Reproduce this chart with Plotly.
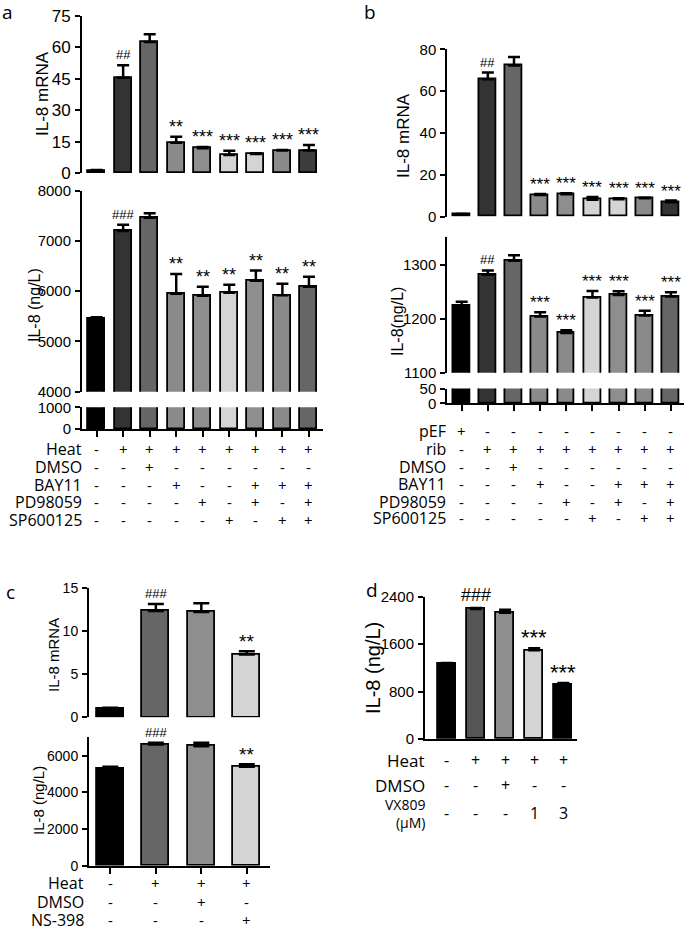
import plotly.graph_objects as go

W, H = 685, 931

# ---------------- data ----------------
a_mrna = [1.0, 45.5, 62.6, 14.5, 11.8, 8.6, 9.1, 10.7, 10.7]
a_mrna_err = [0.4, 6.0, 3.7, 2.8, 0.6, 2.0, 0.3, 0.3, 2.7]
a_mrna_sig = ["", "##", "", "**", "***", "***", "***", "***", "***"]
a_il8 = [5460, 7200, 7460, 5950, 5910, 5970, 6210, 5920, 6090]
a_il8_err = [20, 120, 90, 390, 180, 160, 200, 230, 200]
a_il8_sig = ["", "###", "", "**", "**", "**", "**", "**", "**"]
a_rows = ["Heat", "DMSO", "BAY11", "PD98059", "SP600125"]
a_table = [
    ["-", "+", "+", "+", "+", "+", "+", "+", "+"],
    ["-", "-", "+", "-", "-", "-", "-", "-", "-"],
    ["-", "-", "-", "+", "-", "-", "+", "+", "+"],
    ["-", "-", "-", "-", "+", "-", "+", "-", "+"],
    ["-", "-", "-", "-", "-", "+", "-", "+", "+"],
]
a_col_top = ["#000000", "#333333", "#666666", "#8a8a8a", "#8e8e8e", "#d4d4d4", "#d4d4d4", "#8a8a8a", "#3c3c3c"]
a_col_bot = ["#000000", "#333333", "#666666", "#8a8a8a", "#8e8e8e", "#d4d4d4", "#8e8e8e", "#8a8a8a", "#666666"]

b_mrna = [1.0, 65.7, 72.2, 10.4, 10.7, 8.1, 8.3, 8.8, 6.9]
b_mrna_err = [0.3, 3.2, 4.1, 0.4, 0.5, 1.3, 0.5, 0.3, 0.8]
b_mrna_sig = ["", "##", "", "***", "***", "***", "***", "***", "***"]
b_il8 = [1224.6, 1281.5, 1307.4, 1204, 1173.5, 1239.5, 1244, 1206, 1241]
b_il8_err = [7, 8, 10, 8, 5, 12, 7, 9, 8]
b_il8_sig = ["", "##", "", "***", "***", "***", "***", "***", "***"]
b_rows = ["pEF", "rib", "DMSO", "BAY11", "PD98059", "SP600125"]
b_table = [
    ["+", "-", "-", "-", "-", "-", "-", "-", "-"],
    ["-", "+", "+", "+", "+", "+", "+", "+", "+"],
    ["-", "-", "+", "-", "-", "-", "-", "-", "-"],
    ["-", "-", "-", "+", "-", "-", "+", "+", "+"],
    ["-", "-", "-", "-", "+", "-", "+", "-", "+"],
    ["-", "-", "-", "-", "-", "+", "-", "+", "+"],
]
b_col_top = ["#000000", "#333333", "#666666", "#8a8a8a", "#8e8e8e", "#d4d4d4", "#d4d4d4", "#8a8a8a", "#333333"]
b_col_bot = ["#000000", "#333333", "#666666", "#8a8a8a", "#8a8a8a", "#d4d4d4", "#8e8e8e", "#8a8a8a", "#666666"]

c_mrna = [1.0, 12.3, 12.2, 7.26]
c_mrna_err = [0.1, 0.8, 1.0, 0.38]
c_mrna_sig = ["", "###", "", "**"]
c_il8 = [5280, 6610, 6520, 5400]
c_il8_err = [110, 90, 180, 130]
c_il8_sig = ["", "###", "", "**"]
c_rows = ["Heat", "DMSO", "NS-398"]
c_table = [
    ["-", "+", "+", "+"],
    ["-", "-", "+", "-"],
    ["-", "-", "-", "+"],
]
c_col = ["#000000", "#666666", "#8e8e8e", "#d4d4d4"]

d_il8 = [1265, 2192, 2130, 1495, 916]
d_il8_err = [15, 17, 50, 34, 28]
d_il8_sig = ["", "###", "", "***", "***"]
d_rows = ["Heat", "DMSO", "VX809<br>(μM)"]
d_table = [
    ["-", "+", "+", "+", "+"],
    ["-", "-", "+", "-", "-"],
    ["-", "-", "-", "1", "3"],
]
d_col = ["#000000", "#555555", "#8e8e8e", "#d4d4d4", "#000000"]

# ---------------- helpers ----------------
TICKFONT = "Arial, Liberation Sans, sans-serif"
TABFONT = "Open Sans, sans-serif"

fig = go.Figure()
layout = {}
annotations = []


def xdom(p0, p1):
    return [p0 / W, p1 / W]


def ydom(ptop, pbot):
    return [1 - pbot / H, 1 - ptop / H]


def py(p):
    return 1 - p / H


def add_axes(k, xd, yd, xr, yr, tickvals, tsize, xline=False, xticks=None):
    sfx = "" if k == 1 else str(k)
    xa = dict(domain=xd, range=xr, anchor="y" + sfx, showgrid=False, zeroline=False,
              showticklabels=False, fixedrange=True, automargin=False)
    if xline:
        xa.update(showline=True, linecolor="black", linewidth=2)
        if xticks is not None:
            xa.update(ticks="outside", tickvals=xticks, ticklen=6, tickwidth=2, tickcolor="black")
        else:
            xa.update(ticks="")
    else:
        xa.update(visible=False)
    ya = dict(domain=yd, range=yr, anchor="x" + sfx, showgrid=False, zeroline=False,
              showline=True, linecolor="black", linewidth=2, ticks="outside", ticklen=5,
              tickwidth=2, tickcolor="black", tickvals=tickvals, automargin=False,
              fixedrange=True,
              tickfont=dict(family=TICKFONT, size=tsize, color="black"), ticklabelstandoff=1)
    layout["xaxis" + sfx] = xa
    layout["yaxis" + sfx] = ya
    return "x" + sfx, "y" + sfx


def add_bars(xa, ya, vals, colors, err=None, bw=0.64, lw=1.8, capw=6):
    n = len(vals)
    kw = {}
    if err is not None:
        kw["error_y"] = dict(type="data", array=err, arrayminus=[0] * n, symmetric=False,
                             color="black", thickness=2.5, width=capw)
    fig.add_trace(go.Bar(x=list(range(n)), y=vals, width=bw, xaxis=xa, yaxis=ya,
                         marker=dict(color=colors, line=dict(color="black", width=lw)),
                         showlegend=False, hoverinfo="skip", **kw))


def add_sig(xa, ya, vals, err, sig, size, shift=0, hsize=None):
    for i, s in enumerate(sig):
        if s:
            isz = (hsize or size) if s.startswith("#") else size
            annotations.append(dict(x=i, y=vals[i] + err[i], xref=xa, yref=ya, text=s,
                                    showarrow=False, yanchor="bottom",
                                    yshift=shift if s.startswith("*") else 1,
                                    font=dict(family=TICKFONT, size=isz, color="black")))


def add_table(xa, rows, table, ypix, xlabel, size, label_size=None):
    for r, (lab, yy) in enumerate(zip(rows, ypix)):
        annotations.append(dict(x=xlabel / W, y=py(yy), xref="paper", yref="paper", text=lab,
                                showarrow=False, xanchor="right", yanchor="middle",
                                font=dict(family=TABFONT, size=label_size or size, color="black")))
        for i, s in enumerate(table[r]):
            annotations.append(dict(x=i, y=py(yy), xref=xa, yref="paper", text=s,
                                    showarrow=False, xanchor="center", yanchor="middle",
                                    font=dict(family=TABFONT, size=size, color="black")))


def ytitle(text, xc, yc, size, family=TICKFONT):
    annotations.append(dict(x=xc / W, y=py(yc), xref="paper", yref="paper", text=text,
                            textangle=-90, showarrow=False, xanchor="center", yanchor="middle",
                            font=dict(family=family, size=size, color="black")))


def letter(t, xc, yc):
    annotations.append(dict(x=xc / W, y=py(yc), xref="paper", yref="paper", text=t,
                            showarrow=False, xanchor="center", yanchor="middle",
                            font=dict(family=TABFONT, size=19, color="black")))


# ---------------- panel a ----------------
axr = [-0.55, 8.53]
xa1, ya1 = add_axes(1, xdom(82, 323), ydom(16, 173), axr, [0, 75], [0, 15, 30, 45, 60, 75], 17)
add_bars(xa1, ya1, a_mrna, a_col_top, a_mrna_err)
add_sig(xa1, ya1, a_mrna, a_mrna_err, a_mrna_sig, 18, -2, 13)

xa2, ya2 = add_axes(2, xdom(82, 323), ydom(190.7, 391.7), axr, [4000, 8000],
                    [4000, 5000, 6000, 7000, 8000], 15)
add_bars(xa2, ya2, a_il8, a_col_bot, a_il8_err)
add_sig(xa2, ya2, a_il8, a_il8_err, a_il8_sig, 18, -2, 13)

xa3, ya3 = add_axes(3, xdom(82, 323), ydom(407.3, 429), axr, [0, 1000], [0, 1000], 15,
                    xline=True, xticks=list(range(9)))
add_bars(xa3, ya3, a_il8, a_col_bot)
add_table(xa3, a_rows, a_table, [449, 467, 484.5, 502, 519.5], 84, 15, 16)
ytitle("IL-8 mRNA", 42, 94, 17)
ytitle("IL-8 (ng/L)", 34, 305, 16)
letter("a", 7, 12)

# ---------------- panel b ----------------
bxr = [-0.55, 8.5]
xb1, yb1 = add_axes(4, xdom(447.3, 684), ydom(49.3, 216.7), bxr, [0, 80], [0, 20, 40, 60, 80], 15)
add_bars(xb1, yb1, b_mrna, b_col_top, b_mrna_err)
add_sig(xb1, yb1, b_mrna, b_mrna_err, b_mrna_sig, 17, -2, 13)

xb2, yb2 = add_axes(5, xdom(447.3, 684), ydom(236.7, 372.7), bxr, [1100, 1352],
                    [1100, 1200, 1300], 15)
add_bars(xb2, yb2, b_il8, b_col_bot, b_il8_err)
add_sig(xb2, yb2, b_il8, b_il8_err, b_il8_sig, 17, -2, 13)

xb3, yb3 = add_axes(6, xdom(447.3, 684), ydom(388.5, 403.3), bxr, [0, 50], [0, 50], 15,
                    xline=True, xticks=list(range(9)))
add_bars(xb3, yb3, b_il8, b_col_bot)
add_table(xb3, b_rows, b_table, [431, 449, 466.7, 484, 501.7, 518.3], 448, 15, 16)
ytitle("IL-8 mRNA", 403, 136, 17)
ytitle("IL-8(ng/L)", 397, 322, 16)
letter("b", 370, 12)

# ---------------- panel c ----------------
cxr = [-0.47, 3.51]
xc1, yc1 = add_axes(7, xdom(89, 270), ydom(587.7, 717.3), cxr, [0, 15], [0, 5, 10, 15], 14)
add_bars(xc1, yc1, c_mrna, c_col, c_mrna_err, bw=0.6, capw=8)
add_sig(xc1, yc1, c_mrna, c_mrna_err, c_mrna_sig, 19, -3, 13)

xc2, yc2 = add_axes(8, xdom(89, 270), ydom(736.7, 865.7), cxr, [0, 7035],
                    [0, 2000, 4000, 6000], 14, xline=True, xticks=list(range(4)))
add_bars(xc2, yc2, c_il8, c_col, c_il8_err, bw=0.6, capw=8)
add_sig(xc2, yc2, c_il8, c_il8_err, c_il8_sig, 19, -3, 13)
add_table(xc2, c_rows, c_table, [882.5, 902, 919.5], 86, 15, 16)
ytitle("IL-8 mRNA", 53, 655, 15)
ytitle("IL-8 (ng/L)", 38, 801, 15)
letter("c", 10, 592)

# ---------------- panel d ----------------
dxr = [-0.75, 4.47]
xd1, yd1 = add_axes(9, xdom(425, 577), ydom(596.7, 739), dxr, [0, 2400], [0, 800, 1600, 2400], 15,
                    xline=True, xticks=None)
add_bars(xd1, yd1, d_il8, d_col, d_il8_err, bw=0.63)
add_sig(xd1, yd1, d_il8, d_il8_err, d_il8_sig, 22, -4, 18)
add_table(xd1, d_rows[:2], d_table[:2], [760, 785], 427, 16, 17)
# VX809 row: smaller two-line label
annotations.append(dict(x=427 / W, y=py(813), xref="paper", yref="paper", text=d_rows[2],
                        showarrow=False, xanchor="right", yanchor="middle", align="right",
                        font=dict(family=TABFONT, size=14, color="black")))
for i, s in enumerate(d_table[2]):
    annotations.append(dict(x=i, y=py(813), xref=xd1, yref="paper", text=s,
                            showarrow=False, xanchor="center", yanchor="middle",
                            font=dict(family=TABFONT, size=16, color="black")))
ytitle("IL-8 (ng/L)", 373, 668, 20)
letter("d", 372, 590)

fig.update_layout(**layout)
fig.update_layout(template="none", width=W, height=H, margin=dict(l=0, r=0, t=0, b=0, pad=0),
                  paper_bgcolor="white", plot_bgcolor="white", bargap=0,
                  annotations=annotations, showlegend=False)
fig.write_html("out.html", config={"displayModeBar": False},
               post_script="document.body.style.margin='0';document.body.style.overflow='hidden';")
